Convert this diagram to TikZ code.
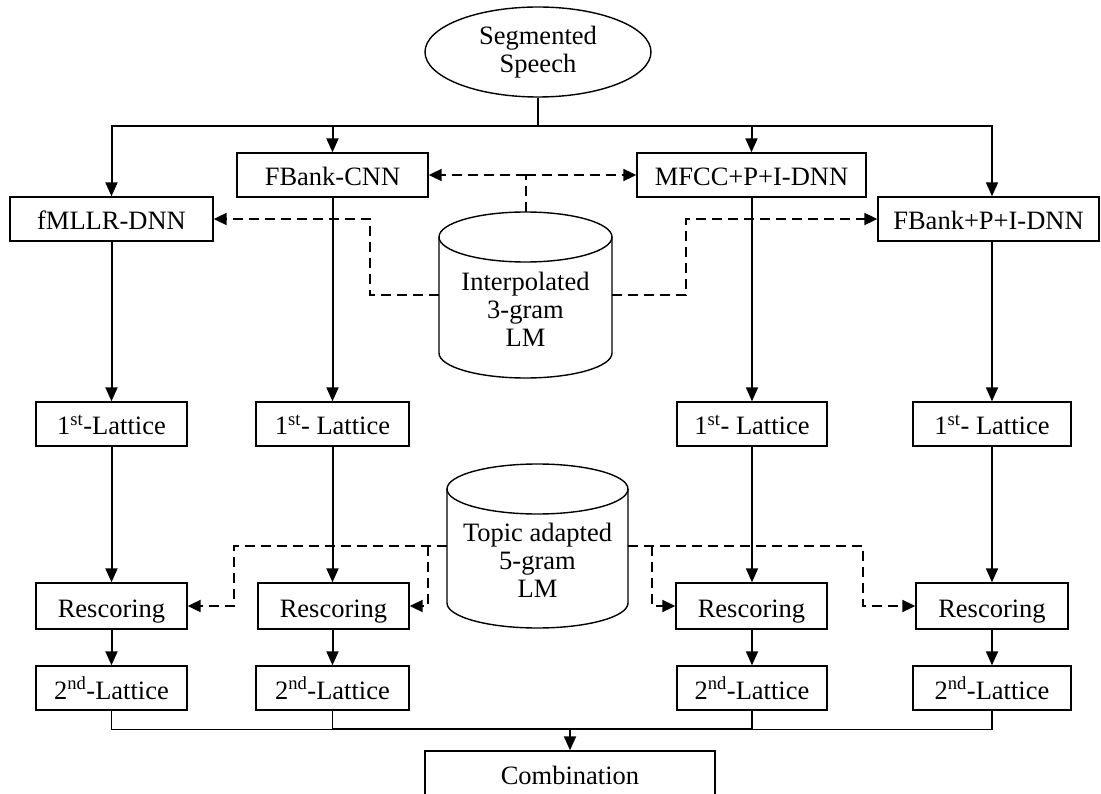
\documentclass[tikz,border=0pt]{standalone}
\usepackage{fontspec}
\setmainfont{Liberation Serif}
\usetikzlibrary{arrows.meta,shapes.geometric,calc}

\begin{document}
\begin{tikzpicture}[x=1pt,y=-1pt,
  font=\fontsize{26.5}{28}\selectfont,
  box/.style={draw, line width=1.4pt, inner sep=0pt, text height=23pt, text depth=1pt, minimum height=44pt},
  drum/.style={inner sep=0pt, outer sep=0pt},
  shapeline/.style={line width=1.4pt},
  link/.style={line width=2pt},
  thinlink/.style={line width=1.4pt},
  flow/.style={line width=2pt, -{Triangle[length=14pt,width=12pt]}},
  dlink/.style={line width=2pt, dash pattern=on 10pt off 6pt},
  dflow/.style={dlink, -{Triangle[length=13pt,width=12pt]}},
]
\useasboundingbox (0,0) rectangle (1101,794);

% source
\node[ellipse, draw, line width=1.4pt, inner sep=0pt, minimum width=226pt, minimum height=90pt, align=center] (seg) at (538,52) {Segmented\\Speech};

% acoustic models
\node[box, minimum width=191pt] (fbcnn) at (332.5,175) {FBank-CNN};
\node[box, minimum width=203pt] (fmllr) at (111.5,219) {fMLLR-DNN};
\node[box, minimum width=229pt] (mfcc)  at (751.5,175) {MFCC+P+I-DNN};
\node[box, minimum width=221pt] (fbpi)  at (988.5,219) {FBank+P+I-DNN};

% first-pass lattices
\node[box, minimum width=151pt] (la1) at (111.5,424) {1\textsuperscript{st}-Lattice};
\node[box, minimum width=153pt] (la2) at (332.5,424) {1\textsuperscript{st}- Lattice};
\node[box, minimum width=150pt] (la3) at (752,424)   {1\textsuperscript{st}- Lattice};
\node[box, minimum width=158pt] (la4) at (992,424)   {1\textsuperscript{st}- Lattice};

% rescoring
\node[box, minimum width=151pt, minimum height=46pt] (rs1) at (111.5,606) {Rescoring};
\node[box, minimum width=151pt, minimum height=46pt] (rs2) at (333.5,606) {Rescoring};
\node[box, minimum width=151pt, minimum height=46pt] (rs3) at (751.5,606) {Rescoring};
\node[box, minimum width=152pt, minimum height=46pt] (rs4) at (992,606)   {Rescoring};

% second-pass lattices
\node[box, minimum width=151pt] (lb1) at (111.5,688) {2\textsuperscript{nd}-Lattice};
\node[box, minimum width=153pt] (lb2) at (332.5,688) {2\textsuperscript{nd}-Lattice};
\node[box, minimum width=150pt] (lb3) at (752,688)   {2\textsuperscript{nd}-Lattice};
\node[box, minimum width=158pt] (lb4) at (992,688)   {2\textsuperscript{nd}-Lattice};

% system combination
\node[box, minimum width=290pt, minimum height=45pt] (comb) at (570,773.5) {Combination};

% language models (drums)
\node[drum, minimum width=173pt, minimum height=166pt] (lm3) at (525.5,295) {};
\node[drum, minimum width=181pt, minimum height=164pt] (lm5) at (537.5,546) {};
\draw[shapeline] ($(lm3.north west)+(0,25)$) -- ($(lm3.south west)+(0,-25)$)
  arc[start angle=180, end angle=0, x radius=86.5, y radius=25] -- ($(lm3.north east)+(0,25)$);
\draw[shapeline] ($(lm3.north)+(0,25)$) ellipse[x radius=86.5, y radius=25];
\draw[shapeline] ($(lm5.north west)+(0,25)$) -- ($(lm5.south west)+(0,-25)$)
  arc[start angle=180, end angle=0, x radius=90.5, y radius=25] -- ($(lm5.north east)+(0,25)$);
\draw[shapeline] ($(lm5.north)+(0,25)$) ellipse[x radius=90.5, y radius=25];
\node[align=center] (lm3t) at (525.5,309) {Interpolated\\3-gram\\LM};
\node[align=center] (lm5t) at (537.5,560) {Topic adapted\\5-gram\\LM};

% fan-out from the speech segments
\coordinate (split) at ($(seg.south)+(0,28)$);
\draw[link] (seg.south) -- (split);
\draw[flow] (split) -| (fmllr.north);
\draw[flow] (split) -| (fbcnn.north);
\draw[flow] (split) -| (mfcc.north);
\draw[flow] (split) -| (la4 |- fbpi.north);

% decoding columns
\draw[flow] (fmllr.south) -- (la1.north);
\draw[flow] (fbcnn.south) -- (la2.north);
\draw[flow] (la3 |- mfcc.south) -- (la3.north);
\draw[flow] (la4 |- fbpi.south) -- (la4.north);

\draw[flow] (la1.south) -- (la1.south |- rs1.north);
\draw[flow] (la2.south) -- (la2.south |- rs2.north);
\draw[flow] (la3.south) -- (la3.south |- rs3.north);
\draw[flow] (la4.south) -- (la4.south |- rs4.north);

\draw[flow] (la1 |- rs1.south) -- (lb1.north);
\draw[flow] (la2 |- rs2.south) -- (lb2.north);
\draw[flow] (la3 |- rs3.south) -- (lb3.north);
\draw[flow] (la4 |- rs4.south) -- (lb4.north);

% merge into combination
\coordinate (merge) at ($(comb.north)+(0,-21)$);
\draw[thinlink] (lb1.south) |- (lb4.south |- merge) -- (lb4.south);
\draw[thinlink] (lb2.south) -- (lb2.south |- merge);
\draw[thinlink] (lb3.south) -- (lb3.south |- merge);
\draw[link] (lb2.south |- merge) -- (lb3.south |- merge);
\draw[flow] (merge) -- (comb.north);

% 3-gram LM feeds the first-pass decoders
\coordinate (d3t) at (lm3.north |- fbcnn.east);
\draw[dlink] (lm3.north) -- (d3t);
\draw[dflow] (d3t) -- (fbcnn.east);
\draw[dflow] (d3t) -- (mfcc.west);
\coordinate (d3l) at (370,219);
\coordinate (d3r) at (686,219);
\draw[dflow] (lm3.west) -| (d3l) -- (fmllr.east);
\draw[dflow] (lm3.east) -| (d3r) -- (fbpi.west);

% 5-gram LM feeds the rescoring steps
\coordinate (d5l)  at (234,606);
\coordinate (d5lb) at (428,546);
\coordinate (d5r)  at (863,606);
\coordinate (d5rb) at (652,546);
\draw[dflow] (lm5.west) -| (d5l) -- (rs1.east);
\draw[dflow] (d5lb) |- (rs2.east);
\draw[dflow] (lm5.east) -| (d5r) -- (rs4.west);
\draw[dflow] (d5rb) |- (rs3.west);
\end{tikzpicture}
\end{document}
